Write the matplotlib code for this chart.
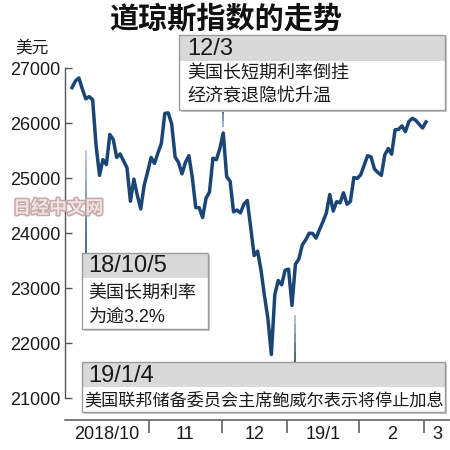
import matplotlib
matplotlib.use("Agg")
import matplotlib.pyplot as plt
import matplotlib.patheffects as pe
from matplotlib.patches import Rectangle
import numpy as np

# Dow Jones daily closes, Oct 2018 - Mar 1 2019
OCT = [26651, 26773, 26828, 26627, 26447, 26487, 26430, 25599, 25053, 25340,
       25250, 25798, 25706, 25380, 25444, 25317, 25191, 24583, 24985, 24689,
       24443, 24875, 25116]
NOV = [25380, 25271, 25462, 25636, 26181, 26192, 25989, 25388, 25287, 25081,
       25290, 25413, 25018, 24466, 24465, 24286, 24640, 24749, 25366, 25339,
       25538]
DEC = [25826, 25027, 24947, 24389, 24423, 24370, 24527, 24597, 24101, 23593,
       23675, 23324, 22860, 22445, 21792, 22878, 23139, 23062, 23327]
JAN = [23346, 22686, 23433, 23531, 23787, 23879, 24001, 23996, 23910, 24065,
       24207, 24370, 24706, 24404, 24575, 24553, 24737, 24528, 24579, 25014,
       24999]
FEB = [25064, 25239, 25411, 25390, 25169, 25106, 25053, 25425, 25543, 25439,
       25883, 25891, 25954, 25850, 26031, 26092, 26057, 25985, 25916]
MAR = [26026]

MONTH_LABELS = ["2018/10", "11", "12", "19/1", "2", "3"]
Y_TICKS = [21000, 22000, 23000, 24000, 25000, 26000, 27000]

# event index within the series: Oct 5, Dec 3, Jan 4
EVENT_OCT5 = 4
EVENT_DEC3 = len(OCT) + len(NOV)
EVENT_JAN4 = len(OCT) + len(NOV) + len(DEC) + 2

TITLE = "道琼斯指数的走势"
UNIT = "美元"
NOTES = [
    ("12/3", ["美国长短期利率倒挂", "经济衰退隐忧升温"]),
    ("18/10/5", ["美国长期利率", "为逾3.2%"]),
    ("19/1/4", ["美国联邦储备委员会主席鲍威尔表示将停止加息"]),
]

plt.rcParams["font.family"] = ["Liberation Sans", "Noto Sans CJK SC"]

months = [OCT, NOV, DEC, JAN, FEB, MAR]
values = np.concatenate(months)
x = np.arange(len(values))
bounds = np.cumsum([len(m) for m in months])[:-1] - 0.5

LINE = "#1b4574"
AXC = "#555555"

fig = plt.figure(figsize=(4.5, 4.5), dpi=100, facecolor="white")
ax = fig.add_axes([65 / 450, 30 / 450, 385 / 450, 390 / 450])

ax.plot(x, values, color=LINE, lw=2.5, solid_joinstyle="round", zorder=3)

# connectors from events to the note boxes (fading toward the line)
def connector(xi, y_far, y_near, steps=12):
    ys = np.linspace(y_far, y_near, steps + 1)
    for i in range(steps):
        a = 1.0 - 0.75 * i / steps
        ax.plot([xi, xi], ys[i:i + 2], color=LINE, lw=1.3, alpha=a,
                solid_capstyle="butt", zorder=2)


connector(EVENT_OCT5, 23300, 25520)
connector(EVENT_DEC3, 26400, values[EVENT_DEC3] + 110, steps=4)
connector(EVENT_JAN4, 21500, 22520, steps=6)

xl = -2.04
xr = 109.98
ax.set_xlim(xl, xr)
ax.set_ylim(20600, 27700)

for s in ["top", "right"]:
    ax.spines[s].set_visible(False)
ax.spines["left"].set_bounds(21000, 27000)
ax.spines["left"].set_color(AXC)
ax.spines["left"].set_linewidth(1.0)
ax.spines["bottom"].set_color(AXC)
ax.spines["bottom"].set_linewidth(1.1)

ax.set_yticks(Y_TICKS)
ax.set_yticklabels([str(v) for v in Y_TICKS])
ax.tick_params(axis="y", direction="in", length=5, width=1.0, color=AXC,
               pad=3, labelsize=13, labelcolor="#1a1a1a")

ax.set_xticks(bounds)
ax.set_xticklabels([])
ax.tick_params(axis="x", which="major", direction="out", length=9.5, width=1.1, color=AXC)
edges = np.concatenate([[xl], bounds, [xr]])
ax.set_xticks((edges[:-1] + edges[1:]) / 2, minor=True)
ax.set_xticklabels(MONTH_LABELS, minor=True)
ax.tick_params(axis="x", which="minor", length=0, pad=4, labelsize=13, labelcolor="#1a1a1a")

# overlay in pixel coordinates for title, notes and watermark
ov = fig.add_axes([0, 0, 1, 1], zorder=5)
ov.set_xlim(0, 450)
ov.set_ylim(450, 0)
ov.axis("off")
ov.patch.set_alpha(0)

ov.text(226, 18, TITLE, fontsize=21, weight="bold", ha="center", va="center",
        family="Noto Sans CJK SC", color="#111111")
ov.text(32, 48, UNIT, fontsize=12, ha="center", va="center", color="#1a1a1a")

ov.text(58, 208, "日经中文网", fontsize=13, weight="heavy", ha="center", va="center",
        family="Noto Sans CJK SC", color="#f4e6e6", alpha=0.95,
        path_effects=[pe.withStroke(linewidth=2.2, foreground="#c2a3a3")])


def note_box(x0, y0, x1, y1, yh, header, lines, line_ys, tx, bx, bsize):
    w, h = x1 - x0, y1 - y0
    ov.add_patch(Rectangle((x0 + 2, y0 + 2), w, h, fc="#c8c8c8", ec="none"))
    ov.add_patch(Rectangle((x0, y0), w, h, fc="white", ec="none"))
    ov.add_patch(Rectangle((x0, y0), w, yh - y0, fc="#d9d9d9", ec="none"))
    ov.add_patch(Rectangle((x0, y0), w, h, fc="none", ec="#9c9c9c", lw=1.0))
    ov.text(tx, (y0 + yh) / 2 + 1, header, fontsize=17, va="center", ha="left",
            color="#1a1a1a")
    for ly, txt in zip(line_ys, lines):
        ov.text(bx, ly, txt, fontsize=bsize, va="center", ha="left", color="#1a1a1a")


note_box(179, 35, 445, 110, 61, NOTES[0][0], NOTES[0][1], [73, 97], 187, 187, 13)
note_box(82, 253, 208, 329, 278, NOTES[1][0], NOTES[1][1], [293, 317], 88, 88, 13)
note_box(82, 362, 445, 412, 387, NOTES[2][0], NOTES[2][1], [401], 88, 84, 12.3)

fig.savefig("out.png", dpi=100, facecolor="white")
